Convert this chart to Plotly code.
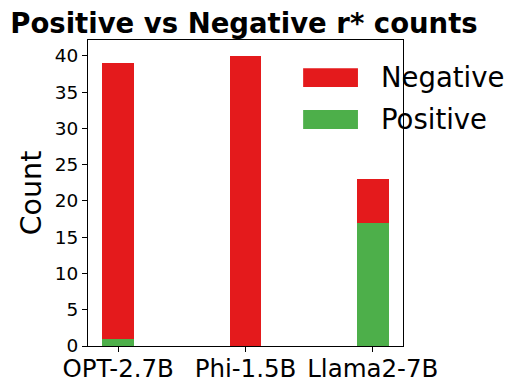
import plotly.graph_objects as go

models = ["OPT-2.7B", "Phi-1.5B", "Llama2-7B"]
positive = [1, 0, 17]
negative = [38, 40, 6]

colors = {"Positive": "#4daf4a", "Negative": "#e41a1c"}
FONT = "DejaVu Sans"

# the page body adds an 8px margin, so the figure is a bit smaller and shifted
W, H = 510, 374

fig = go.Figure()
fig.add_trace(go.Bar(x=models, y=positive, name="Positive", marker_color=colors["Positive"],
                     marker_line_width=0, width=0.25))
fig.add_trace(go.Bar(x=models, y=negative, name="Negative", marker_color=colors["Negative"],
                     marker_line_width=0, width=0.25))

fig.update_layout(
    barmode="stack",
    width=W, height=H,
    margin=dict(l=80, r=115, t=32, b=36),
    plot_bgcolor="white", paper_bgcolor="white",
    showlegend=False,
    font=dict(family=FONT, color="black"),
    title=dict(text="<b>Positive vs Negative r* counts</b>", font=dict(size=27.5, family=FONT),
               x=236 / W, xanchor="center", xref="container",
               y=1 - 15 / H, yanchor="middle", yref="container"),
)
fig.update_xaxes(range=[-0.2375, 2.2375], showline=True, linecolor="black", linewidth=1, mirror=True,
                 ticks="outside", ticklen=5, tickcolor="black", tickfont=dict(size=24.5),
                 ticklabelstandoff=-4, showgrid=False, automargin=False)
fig.update_yaxes(range=[0, 42.2], showline=True, linecolor="black", linewidth=1, mirror=True,
                 ticks="outside", ticklen=5, tickcolor="black", tickfont=dict(size=18.5),
                 dtick=5, showgrid=False, zeroline=False, automargin=False,
                 title=dict(text="Count", font=dict(size=28.5), standoff=4))

# legend drawn by hand to mimic matplotlib's wide patches
legend_items = [("Negative", 0.846, 0.908, 0.879), ("Positive", 0.709, 0.771, 0.742)]
for name, y0, y1, yc in legend_items:
    fig.add_shape(type="rect", xref="paper", yref="paper", x0=0.683, x1=0.857, y0=y0, y1=y1,
                  fillcolor=colors[name], line_width=0, layer="below")
    fig.add_annotation(text=name, xref="paper", yref="paper", x=0.925, y=yc,
                       xanchor="left", yanchor="middle", showarrow=False,
                       font=dict(size=27.5, family=FONT, color="black"))

fig.write_html("out.html")
